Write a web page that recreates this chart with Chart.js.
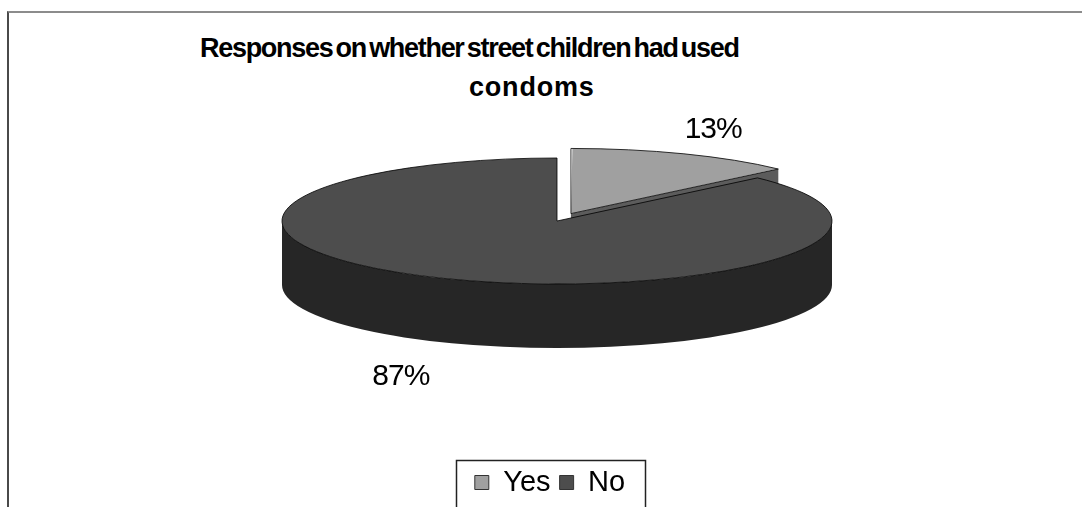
<!DOCTYPE html>
<html>
<head>
<meta charset="utf-8">
<script src="https://cdn.jsdelivr.net/npm/chart.js@4"></script>
<style>
  html, body { margin: 0; padding: 0; background: #fff; }
  #wrap { position: relative; width: 1082px; height: 507px; overflow: hidden; font-family: "Liberation Sans", Arial, sans-serif; }
  #frame { position: absolute; left: 7px; top: 11px; width: 1100px; height: 520px; border-top: 2px solid #8c8c8c; border-left: 2px solid #4a4a4a; }
  .title { position: absolute; font-weight: bold; font-size: 27px; line-height: 27px; letter-spacing: -1.3px; word-spacing: -3px; color: #000; white-space: nowrap; }
  canvas { position: absolute; left: 0; top: 0; }
</style>
</head>
<body>
<div id="wrap">
  <div id="frame"></div>
  <div class="title" style="left:200px; top:35px;">Responses on whether street children had used</div>
  <div class="title" style="left:469px; top:74px; letter-spacing:0.8px;">condoms</div>
  <canvas id="pieChart" width="1082" height="507"></canvas>
</div>
<script>
// dados
const categories = ['Yes', 'No'];
const responses = [13, 87];
const sliceColors = ['#a0a0a0', '#4d4d4d'];
const sideColors = ['#5c5c5c', '#262626'];

// elipse do topo da pizza (em pixels da tela)
const CX = 557, CY = 221, RX = 275, RY = 63, DEPTH = 64;
const FONT = '"Liberation Sans", Arial, sans-serif';

function arcGeom(arc) {
  const off = (arc.options.offset || 0) / 4;
  const half = (arc.startAngle + arc.endAngle) / 2;
  const fix = 1 - Math.sin(Math.min(Math.PI, arc.circumference || 0));
  return {
    x: arc.x + Math.cos(half) * off,
    y: arc.y + Math.sin(half) * off,
    r: arc.outerRadius + off * fix
  };
}

function frontRanges(s, e) {
  const out = [];
  for (let k = -1; k <= 1; k++) {
    const a = Math.max(s, 2 * Math.PI * k);
    const b = Math.min(e, 2 * Math.PI * k + Math.PI);
    if (b > a) out.push([a, b]);
  }
  return out;
}

function applyTilt(chart) {
  const ctx = chart.ctx;
  const base = chart.getDatasetMeta(0).data[0];
  const k = base.outerRadius;
  ctx.translate(CX, CY);
  ctx.scale(RX / k, RY / k);
  ctx.translate(-base.x, -base.y);
  return DEPTH * k / RY;
}

const pie3d = {
  id: 'pie3d',
  beforeDatasetsDraw(chart) {
    const ctx = chart.ctx;
    const arcs = chart.getDatasetMeta(0).data;
    ctx.save();
    const d = applyTilt(chart);
    arcs.forEach((arc, i) => {
      const g = arcGeom(arc);
      ctx.fillStyle = sideColors[i];
      [arc.startAngle, arc.endAngle].forEach((ang, j) => {
        const c = Math.cos(ang);
        if ((j === 1 && c > 0.001) || (j === 0 && c < -0.001)) {
          const ex = g.x + g.r * Math.cos(ang), ey = g.y + g.r * Math.sin(ang);
          ctx.beginPath();
          ctx.moveTo(g.x, g.y);
          ctx.lineTo(ex, ey);
          ctx.lineTo(ex, ey + d);
          ctx.lineTo(g.x, g.y + d);
          ctx.closePath();
          ctx.fill();
        }
      });
      frontRanges(arc.startAngle, arc.endAngle).forEach(([a, b]) => {
        ctx.beginPath();
        ctx.arc(g.x, g.y, g.r, a, b);
        ctx.lineTo(g.x + g.r * Math.cos(b), g.y + g.r * Math.sin(b) + d);
        ctx.arc(g.x, g.y + d, g.r, b, a, true);
        ctx.closePath();
        ctx.fill();
      });
    });
  },
  afterDatasetsDraw(chart) {
    const ctx = chart.ctx;
    const arcs = chart.getDatasetMeta(0).data;
    ctx.beginPath();
    arcs.forEach(arc => {
      const g = arcGeom(arc);
      ctx.moveTo(g.x, g.y);
      ctx.arc(g.x, g.y, g.r, arc.startAngle, arc.endAngle);
      ctx.closePath();
    });
    ctx.restore();
    ctx.save();
    ctx.lineWidth = 0.8;
    ctx.strokeStyle = '#000';
    ctx.stroke();
    ctx.restore();
  }
};

const pctLabels = {
  id: 'pctLabels',
  afterDraw(chart) {
    const ctx = chart.ctx;
    const arcs = chart.getDatasetMeta(0).data;
    const total = responses.reduce((a, b) => a + b, 0);
    ctx.save();
    ctx.font = '30px ' + FONT;
    ctx.letterSpacing = '-1px';
    ctx.fillStyle = '#000';
    ctx.textAlign = 'center';
    ctx.textBaseline = 'middle';
    arcs.forEach((arc, i) => {
      const mid = (arc.startAngle + arc.endAngle) / 2;
      const c = Math.cos(mid), s = Math.sin(mid);
      const x = CX + RX * 1.43 * c;
      const y = CY + RY * 1.58 * s + (s > 0 ? DEPTH : 0);
      ctx.fillText(Math.round(responses[i] / total * 100) + '%', x, y);
    });
    ctx.restore();
  }
};

const legendFrame = {
  id: 'legendFrame',
  afterDraw(chart) {
    const lg = chart.legend;
    if (!lg || !lg.legendHitBoxes.length) return;
    const hb = lg.legendHitBoxes;
    const left = Math.min(...hb.map(h => h.left)) - 19;
    const right = Math.max(...hb.map(h => h.left + h.width)) + 20;
    const ctx = chart.ctx;
    ctx.save();
    ctx.strokeStyle = '#222';
    ctx.lineWidth = 1.5;
    ctx.strokeRect(Math.round(left) + 0.5, Math.round(lg.top) + 1.5, Math.round(right - left), 100);
    ctx.restore();
  }
};

new Chart(document.getElementById('pieChart'), {
  type: 'pie',
  data: {
    labels: categories,
    datasets: [{
      data: responses,
      backgroundColor: sliceColors,
      borderWidth: 0,
      offset: [102, 0],
      clip: false
    }]
  },
  options: {
    responsive: false,
    animation: false,
    events: [],
    radius: 200,
    layout: { padding: { left: 18 } },
    plugins: {
      title: { display: false },
      tooltip: { enabled: false },
      legend: {
        position: 'bottom',
        labels: {
          color: '#000',
          font: { family: FONT, size: 29, lineHeight: 1 },
          boxWidth: 14,
          boxHeight: 14,
          padding: 9,
          generateLabels(chart) {
            const items = Chart.overrides.doughnut.plugins.legend.labels.generateLabels(chart);
            return items.map(it => Object.assign(it, { strokeStyle: '#333', lineWidth: 1 }));
          }
        }
      }
    }
  },
  plugins: [pie3d, pctLabels, legendFrame]
});
</script>
</body>
</html>
